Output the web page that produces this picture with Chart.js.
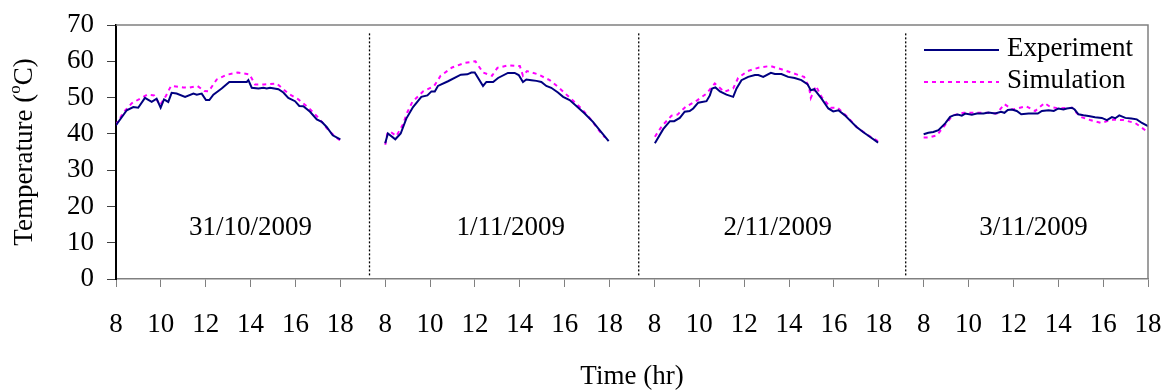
<!DOCTYPE html>
<html>
<head>
<meta charset="utf-8">
<script src="https://cdn.jsdelivr.net/npm/chart.js@4"></script>
<style>
  html, body { margin: 0; padding: 0; background: #fff; }
  #wrap { width: 1165px; height: 390px; }
</style>
</head>
<body>
<div id="wrap"><canvas id="tempChart" width="1165" height="390"></canvas></div>
<script>
// hour tick labels, repeated for each day
const hourTicks = [8, 10, 12, 14, 16, 18];
const dayLabels = ["31/10/2009", "1/11/2009", "2/11/2009", "3/11/2009"];
const dayLabelPos = [6, 17.6, 29.5, 40.9];
const separatorX = [11.3, 23.3, 35.2];

// Experiment, per day (hour, temperature)
const expHours1 = [8.0, 8.48, 8.77, 8.99, 9.29, 9.59, 9.81, 9.99, 10.14, 10.33, 10.48, 10.7, 11.08, 11.45, 11.6, 11.82, 12.01, 12.16, 12.34, 12.71, 13.05, 13.83, 13.9, 14.05, 14.35, 14.57, 14.72, 14.87, 15.24, 15.46, 15.68, 15.98, 16.17, 16.35, 16.65, 16.95, 17.17, 17.39, 17.66, 18.0];
const expTemp1 = [42.4, 46.5, 47.4, 47.2, 49.9, 48.8, 49.7, 47.2, 49.5, 48.8, 51.3, 51.1, 50.2, 51.1, 50.8, 51.1, 49.3, 49.3, 50.8, 52.5, 54.3, 54.3, 54.8, 52.7, 52.5, 52.7, 52.5, 52.7, 52.3, 51.4, 49.9, 49.0, 47.7, 47.6, 46.1, 44.0, 43.3, 41.9, 39.6, 38.5];
const expHours2 = [8.0, 8.12, 8.45, 8.69, 8.94, 9.24, 9.61, 9.88, 10.06, 10.21, 10.35, 10.8, 11.37, 11.66, 11.84, 11.99, 12.36, 12.51, 12.81, 13.03, 13.47, 13.77, 13.95, 14.14, 14.29, 14.52, 14.74, 14.96, 15.18, 15.4, 15.7, 15.93, 16.22, 16.52, 16.89, 17.26, 17.63, 17.96];
const expTemp2 = [37.4, 40.1, 38.5, 40.1, 44.2, 47.4, 50.2, 50.6, 51.7, 51.7, 53.2, 54.5, 56.3, 56.4, 56.9, 56.9, 53.2, 54.3, 54.3, 55.4, 56.8, 56.8, 56.2, 54.3, 55.0, 54.8, 54.6, 54.3, 53.2, 52.7, 51.4, 50.2, 49.3, 47.7, 45.6, 43.3, 40.5, 38.0];
const expHours3 = [8.02, 8.39, 8.69, 8.88, 9.13, 9.35, 9.57, 9.73, 9.95, 10.32, 10.47, 10.57, 10.72, 10.92, 11.21, 11.51, 11.66, 11.88, 12.18, 12.48, 12.63, 12.85, 13.19, 13.37, 13.66, 13.96, 14.25, 14.55, 14.82, 14.97, 15.12, 15.45, 15.75, 15.97, 16.2, 16.49, 16.78, 17.01, 17.3, 17.6, 17.97];
const expTemp3 = [37.4, 41.3, 43.5, 43.5, 44.4, 46.1, 46.3, 47.0, 48.6, 49.0, 50.6, 52.5, 52.8, 51.7, 50.8, 50.2, 52.5, 54.8, 55.7, 56.2, 56.2, 55.7, 56.8, 56.5, 56.5, 55.7, 55.4, 54.8, 53.7, 52.0, 52.3, 49.7, 47.0, 46.2, 46.5, 45.1, 43.3, 41.9, 40.5, 39.2, 37.6];
const expHours4 = [8.0, 8.21, 8.43, 8.66, 8.96, 9.18, 9.33, 9.52, 9.7, 9.85, 10.15, 10.37, 10.67, 10.89, 11.19, 11.45, 11.6, 11.75, 11.93, 12.15, 12.35, 12.68, 13.09, 13.27, 13.57, 13.8, 14.01, 14.23, 14.38, 14.61, 14.73, 14.9, 15.12, 15.35, 15.64, 15.94, 16.17, 16.39, 16.54, 16.72, 16.99, 17.26, 17.5, 17.73, 18.0];
const expTemp4 = [39.9, 40.3, 40.5, 41.0, 42.9, 44.7, 45.1, 45.3, 45.0, 45.6, 45.3, 45.6, 45.6, 45.9, 45.6, 46.1, 45.8, 46.6, 46.7, 46.3, 45.4, 45.6, 45.6, 46.3, 46.5, 46.3, 47.0, 46.7, 47.0, 47.2, 46.7, 45.4, 45.1, 44.9, 44.6, 44.4, 43.8, 44.6, 44.3, 45.1, 44.4, 44.2, 44.0, 43.0, 42.1];

// Simulation, per day
const simHours1 = [8.0, 8.33, 8.7, 9.07, 9.4, 9.7, 9.96, 10.23, 10.45, 11.0, 11.22, 11.63, 11.94, 12.13, 12.49, 12.94, 13.43, 13.95, 14.2, 14.6, 15.16, 15.68, 16.13, 16.58, 17.03, 17.47, 17.91, 18.0];
const simTemp1 = [42.5, 45.9, 48.4, 49.7, 50.8, 50.6, 47.9, 50.5, 53.2, 52.8, 52.7, 53.2, 51.8, 51.7, 55.0, 56.3, 56.9, 56.4, 53.6, 53.6, 53.9, 51.1, 49.5, 47.2, 44.4, 41.0, 38.5, 38.2];
const simHours2 = [8.0, 8.1, 8.25, 8.5, 8.79, 8.98, 9.21, 9.69, 10.18, 10.47, 10.98, 11.51, 12.02, 12.36, 12.76, 13.0, 13.5, 14.0, 14.14, 14.32, 14.81, 15.33, 15.73, 16.22, 16.74, 17.16, 17.56, 17.8];
const simTemp2 = [37.0, 40.3, 40.5, 39.4, 42.6, 45.9, 48.8, 51.7, 53.2, 56.0, 58.3, 59.5, 60.0, 56.9, 56.0, 58.2, 58.9, 58.7, 56.0, 57.3, 56.4, 54.8, 52.8, 50.0, 47.0, 44.0, 40.7, 39.0];
const simHours3 = [8.02, 8.34, 8.76, 9.03, 9.38, 9.92, 10.32, 10.69, 11.11, 11.51, 11.73, 12.15, 12.67, 13.16, 13.66, 14.14, 14.67, 14.89, 14.97, 15.2, 15.45, 15.86, 16.16, 16.6, 17.01, 17.45, 17.96];
const simTemp3 = [39.2, 42.2, 45.0, 45.3, 47.4, 49.3, 51.1, 53.9, 51.6, 52.5, 55.4, 57.3, 58.3, 58.7, 57.8, 56.8, 55.7, 52.9, 49.9, 53.2, 50.2, 47.2, 47.2, 44.7, 41.9, 39.9, 38.0];
const simHours4 = [8.0, 8.21, 8.59, 8.96, 9.29, 9.78, 10.33, 10.86, 11.26, 11.6, 11.96, 12.57, 12.97, 13.39, 13.65, 14.05, 14.61, 14.98, 15.42, 15.91, 16.39, 16.91, 17.43, 17.88, 18.0];
const simTemp4 = [39.0, 39.0, 39.6, 42.5, 45.1, 45.8, 45.8, 45.8, 45.6, 48.2, 46.7, 47.6, 46.3, 48.5, 47.4, 47.0, 47.2, 44.7, 43.8, 43.0, 43.9, 43.8, 43.0, 41.0, 40.8];

const FONT = "'Liberation Serif', 'Times New Roman', serif";

// each day takes 12 units on the x axis (8..18 plus a gap)
function joinDays(hours, temps) {
  const pts = [];
  hours.forEach((hs, d) => {
    if (d > 0) pts.push({ x: 12 * d - 1, y: null });
    hs.forEach((h, i) => pts.push({ x: 12 * d + h - 8, y: temps[d][i] }));
  });
  return pts;
}

const expPoints = joinDays([expHours1, expHours2, expHours3, expHours4], [expTemp1, expTemp2, expTemp3, expTemp4]);
const simPoints = joinDays([simHours1, simHours2, simHours3, simHours4], [simTemp1, simTemp2, simTemp3, simTemp4]);

const separators = separatorX.map((x) => ({
  label: "",
  data: [{ x: x, y: 1 }, { x: x, y: 68 }],
  borderColor: "#000",
  borderWidth: 1.3,
  borderDash: [2, 2],
  pointRadius: 0,
  isSeparator: true,
}));

// legend inside the plot, date labels and y title with superscript
const extras = {
  id: "extras",
  afterDraw(chart) {
    const ctx = chart.ctx;
    const xs = chart.scales.x, ys = chart.scales.y, area = chart.chartArea;
    ctx.save();

    // top and right frame
    ctx.strokeStyle = "#808080";
    ctx.lineWidth = 1.5;
    ctx.beginPath();
    ctx.moveTo(area.left, area.top);
    ctx.lineTo(area.right, area.top);
    ctx.lineTo(area.right, area.bottom);
    ctx.stroke();

    ctx.fillStyle = "#000";
    ctx.font = "27px " + FONT;
    ctx.textBaseline = "middle";
    ctx.textAlign = "center";
    dayLabels.forEach((lab, i) => {
      ctx.fillText(lab, xs.getPixelForValue(dayLabelPos[i]), ys.getPixelForValue(14.2));
    });

    // legend
    const ds = chart.data.datasets.filter((d) => !d.isSeparator);
    const rows = [50, 82];
    ds.forEach((d, i) => {
      ctx.strokeStyle = d.borderColor;
      ctx.lineWidth = 2;
      ctx.setLineDash(d.borderDash || []);
      ctx.beginPath();
      ctx.moveTo(924, rows[i]);
      ctx.lineTo(999, rows[i]);
      ctx.stroke();
      ctx.setLineDash([]);
      ctx.textAlign = "left";
      ctx.fillText(d.label, 1007, rows[i] - 1);
    });

    // y axis title: Temperature (°C) with raised o
    ctx.translate(25, (area.top + area.bottom) / 2);
    ctx.rotate(-Math.PI / 2);
    const big = "27px " + FONT, small = "17px " + FONT;
    const parts = [["Temperature (", big, 0], ["o", small, -9], ["C)", big, 0]];
    let total = 0;
    parts.forEach((p) => { ctx.font = p[1]; total += ctx.measureText(p[0]).width; });
    let x = -total / 2;
    ctx.textAlign = "left";
    parts.forEach((p) => {
      ctx.font = p[1];
      ctx.fillText(p[0], x, p[2]);
      x += ctx.measureText(p[0]).width;
    });
    ctx.restore();
  },
};

new Chart(document.getElementById("tempChart"), {
  type: "line",
  data: {
    datasets: [
      {
        label: "Experiment",
        data: expPoints,
        borderColor: "#000080",
        borderWidth: 2,
        pointRadius: 0,
        tension: 0,
        spanGaps: false,
      },
      {
        label: "Simulation",
        data: simPoints,
        borderColor: "#FF00FF",
        borderWidth: 2,
        borderDash: [4, 4],
        pointRadius: 0,
        tension: 0,
        spanGaps: false,
      },
      ...separators,
    ],
  },
  options: {
    responsive: false,
    animation: false,
    events: [],
    layout: { padding: { top: 25, right: 17, left: 0, bottom: 0 } },
    plugins: { legend: { display: false }, tooltip: { enabled: false } },
    scales: {
      x: {
        type: "linear",
        min: 0,
        max: 46,
        afterFit: (s) => { s.height = 111; s.paddingLeft = 0; s.paddingRight = 0; },
        border: { color: "#808080", width: 1.5 },
        grid: { drawOnChartArea: false, drawTicks: true, tickLength: 8, color: "#808080" },
        ticks: {
          stepSize: 2,
          autoSkip: false,
          maxRotation: 0,
          padding: 22,
          color: "#000",
          font: { family: FONT, size: 27 },
          callback: (v) => hourTicks[(v % 12) / 2],
        },
        title: {
          display: true,
          text: "Time (hr)",
          color: "#000",
          padding: 0,
          font: { family: FONT, size: 27, lineHeight: 1 },
        },
      },
      y: {
        min: 0,
        max: 70,
        afterFit: (s) => { s.width = 116; s.paddingTop = 0; s.paddingBottom = 0; },
        border: { color: "#000", width: 2 },
        grid: { drawOnChartArea: false, drawTicks: true, tickLength: 9, color: "#404040" },
        ticks: {
          stepSize: 10,
          padding: 13,
          color: "#000",
          font: { family: FONT, size: 27 },
        },
      },
    },
  },
  plugins: [extras],
});
</script>
</body>
</html>
